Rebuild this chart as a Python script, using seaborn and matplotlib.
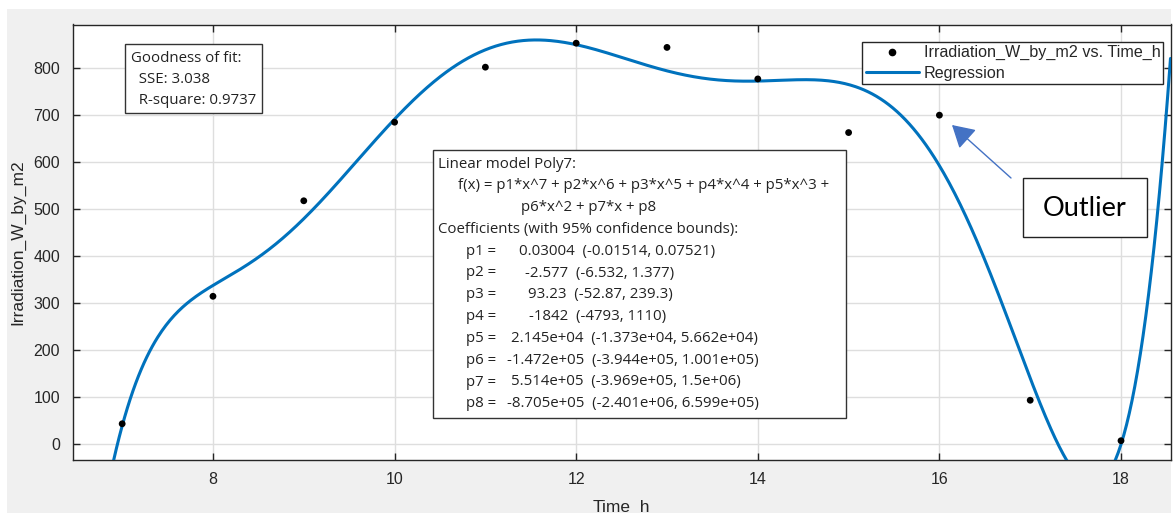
import numpy as np
import pandas as pd
import matplotlib
matplotlib.use("Agg")
import matplotlib.pyplot as plt
import seaborn as sns
from matplotlib.patches import Rectangle, FancyArrowPatch
from matplotlib.lines import Line2D

# Measured solar irradiation over one day
time_h = [7, 8, 9, 10, 11, 12, 13, 14, 15, 16, 17, 18]
irradiation = [44, 315, 518, 685, 802, 853, 844, 777, 663, 700, 94, 8]

x_ticks = [8, 10, 12, 14, 16, 18]
y_ticks = [0, 100, 200, 300, 400, 500, 600, 700, 800]

# Fit summary of the degree-7 polynomial model
fit_stats = ["SSE: 3.038", "R-square: 0.9737"]
coef_names = ["p1", "p2", "p3", "p4", "p5", "p6", "p7", "p8"]
coef_values = ["0.03004", "-2.577", "93.23", "-1842",
               "2.145e+04", "-1.472e+05", "5.514e+05", "-8.705e+05"]
coef_lower = ["-0.01514", "-6.532", "-52.87", "-4793",
              "-1.373e+04", "-3.944e+05", "-3.969e+05", "-2.401e+06"]
coef_upper = ["0.07521", "1.377", "239.3", "1110",
              "5.662e+04", "1.001e+05", "1.5e+06", "6.599e+05"]

df = pd.DataFrame({"Time_h": time_h, "Irradiation_W_by_m2": irradiation})

W, H = 1173, 513
XLIM = (6.453, 18.545)
YLIM = (-33, 892.7)
sns.set_style("ticks")
plt.rcParams["font.family"] = ["Liberation Sans", "DejaVu Sans"]

fig = plt.figure(figsize=(W / 100, H / 100), dpi=100, facecolor="white")


def fx(px):
    return px / W


def fy(py):
    return 1 - py / H


# grey window background
fig.patches.append(Rectangle((fx(7), 0), fx(1171) - fx(7), fy(9), transform=fig.transFigure,
                             facecolor="#f0f0f0", edgecolor="none", zorder=-10))

ax = fig.add_axes([fx(72.5), fy(460), fx(1170.5) - fx(72.5), fy(24.5) - fy(460)])
ax.set_facecolor("white")

# least-squares polynomial of degree 7, evaluated on a fine grid across the axis
coefs = np.polyfit(df["Time_h"], df["Irradiation_W_by_m2"], 7)
grid = pd.DataFrame({"Time_h": np.linspace(XLIM[0], XLIM[1], 800)})
grid["Fit"] = np.polyval(coefs, grid["Time_h"])

blue = "#0072BD"
sns.lineplot(data=grid, x="Time_h", y="Fit", color=blue, lw=2.2, zorder=3, ax=ax)
sns.scatterplot(data=df, x="Time_h", y="Irradiation_W_by_m2", color="black",
                s=24, edgecolor="none", zorder=4, ax=ax, legend=False)

ax.set_xlim(*XLIM)
ax.set_ylim(*YLIM)
ax.set_xticks(x_ticks)
ax.set_yticks(y_ticks)
ax.grid(True, color="#dedede", lw=1)
ax.set_axisbelow(True)
ax.tick_params(direction="in", length=5, width=1, color="#262626",
               labelcolor="#262626", labelsize=11.5, top=True, right=True, pad=9)
for s in ax.spines.values():
    s.set_color("#262626")
    s.set_linewidth(1)
ax.set_xlabel("Time_h", fontsize=12.5, color="#262626", labelpad=9)
ax.set_ylabel("Irradiation_W_by_m2", fontsize=12.5, color="#262626", labelpad=6)

handles = [Line2D([], [], ls="none", marker="o", ms=4.5, color="black"),
           Line2D([], [], color=blue, lw=2.2)]
leg = ax.legend(handles, ["Irradiation_W_by_m2 vs. Time_h", "Regression"],
                loc="upper right", bbox_to_anchor=(0.9936, 0.9598), borderaxespad=0,
                fancybox=False, framealpha=1, edgecolor="#262626", fontsize=11.6,
                handlelength=3.3, handletextpad=0.3, borderpad=0.2, labelspacing=0.35)
leg.get_frame().set_linewidth(1)
leg.set_zorder(6)

box_font = ["Open Sans", "DejaVu Sans"]
fs = 10.8

# goodness of fit box
fig.patches.append(Rectangle((fx(125), fy(113)), fx(262) - fx(125), fy(44) - fy(113),
                             transform=fig.transFigure, facecolor="white",
                             edgecolor="#333333", lw=1, zorder=5))
gof_lines = ["Goodness of fit:"] + ["  " + s for s in fit_stats]
for i, t in enumerate(gof_lines):
    fig.text(fx(131), fy(58 + 21.5 * i), t, family=box_font, fontsize=fs,
             color="#222222", va="center", ha="left", zorder=6)

# model description box
fig.patches.append(Rectangle((fx(433), fy(418)), fx(846) - fx(433), fy(150) - fy(418),
                             transform=fig.transFigure, facecolor="white",
                             edgecolor="#333333", lw=1, zorder=5))
row_y = [164 + 21.8 * i for i in range(12)]
fig.text(fx(438), fy(row_y[0]), "Linear model Poly7:", family=box_font, fontsize=fs,
         color="#222222", va="center", zorder=6)
fig.text(fx(458), fy(row_y[1]), "f(x) = p1*x^7 + p2*x^6 + p3*x^5 + p4*x^4 + p5*x^3 +",
         family=box_font, fontsize=fs, color="#222222", va="center", zorder=6)
fig.text(fx(521), fy(row_y[2]), "p6*x^2 + p7*x + p8", family=box_font, fontsize=fs,
         color="#222222", va="center", zorder=6)
fig.text(fx(438), fy(row_y[3]), "Coefficients (with 95% confidence bounds):",
         family=box_font, fontsize=fs, color="#222222", va="center", zorder=6)
value_x = [519, 525, 528, 529, 511, 507, 511, 507]
for i, (n, v, lo, hi) in enumerate(zip(coef_names, coef_values, coef_lower, coef_upper)):
    yy = fy(row_y[4 + i])
    fig.text(fx(466), yy, f"{n} =", family=box_font, fontsize=fs, color="#222222",
             va="center", zorder=6)
    fig.text(fx(value_x[i]), yy, f"{v}  ({lo}, {hi})", family=box_font, fontsize=fs,
             color="#222222", va="center", zorder=6)

# annotation for the outlier
fig.patches.append(Rectangle((fx(1023), fy(237)), fx(1147) - fx(1023), fy(178) - fy(237),
                             transform=fig.transFigure, facecolor="white",
                             edgecolor="#222222", lw=1, zorder=5))
fig.text(fx(1085), fy(208), "Outlier", family=["Lato", "DejaVu Sans"], fontsize=19.5,
         color="black", ha="center", va="center", zorder=6)
arrow = FancyArrowPatch((fx(1011), fy(178)), (fx(952), fy(125)), transform=fig.transFigure,
                        arrowstyle="-|>,head_length=0.62,head_width=0.36", mutation_scale=22,
                        lw=1, color="#4472C4", shrinkA=0, shrinkB=0, zorder=6)
fig.patches.append(arrow)

fig.savefig("out.png", dpi=100, facecolor=fig.get_facecolor())
